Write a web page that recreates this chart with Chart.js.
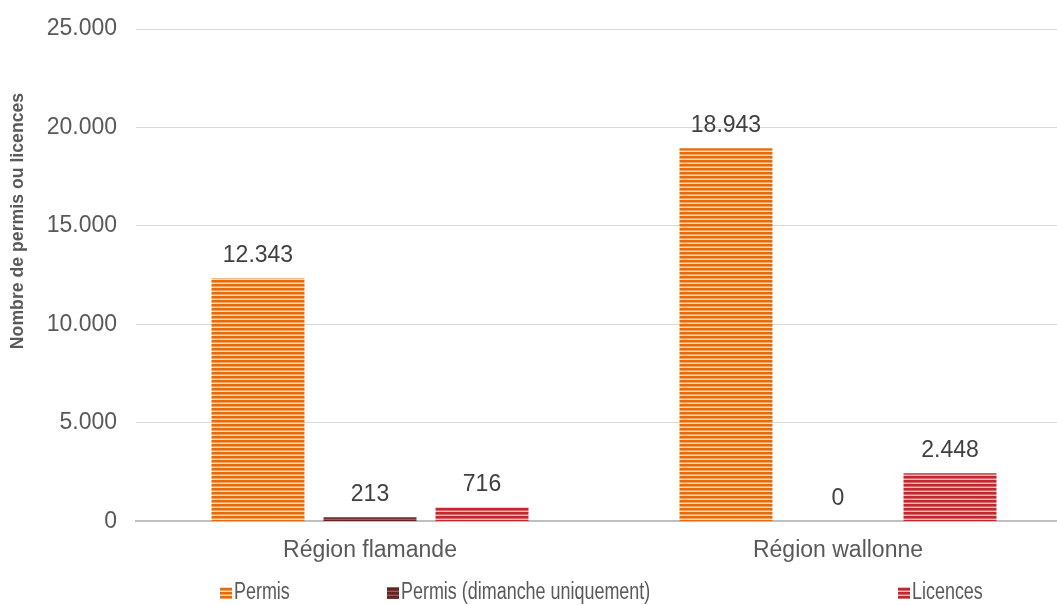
<!DOCTYPE html>
<html>
<head>
<meta charset="utf-8">
<script src="https://cdn.jsdelivr.net/npm/chart.js@4.4.1/dist/chart.umd.min.js"></script>
<style>
    html, body { margin: 0; padding: 0; background: #fff; overflow: hidden; }
    #wrap { width: 1072px; height: 605px; position: relative; }
</style>
</head>
<body>
<div id="wrap"><canvas id="chartPermis"></canvas></div>
<script>
// ============ DONNEES ============
const REGIONS = ['Région flamande', 'Région wallonne'];
const SERIES_NOMS = ['Permis', 'Permis (dimanche uniquement)', 'Licences'];
const PERMIS = [12343, 18943];
const PERMIS_DIMANCHE = [213, 0];
const LICENCES = [716, 2448];
const Y_TICKS = [0, 5000, 10000, 15000, 20000, 25000];
const TITRE_Y = 'Nombre de permis ou licences';

const TEXTE = '#595959';
const POLICE = "'Liberation Sans', Arial, sans-serif";

function fmt(v) {
    return String(v).replace(/\B(?=(\d{3})+(?!\d))/g, '.');
}

// motif a rayures horizontales (comme le remplissage Excel)
function rayures(fonce, moyen, clair) {
    const c = document.createElement('canvas');
    c.width = 4; c.height = 4;
    const g = c.getContext('2d');
    g.fillStyle = fonce; g.fillRect(0, 0, 4, 2);
    g.fillStyle = moyen; g.fillRect(0, 2, 4, 1);
    g.fillStyle = clair; g.fillRect(0, 3, 4, 1);
    return g.createPattern(c, 'repeat');
}

const motifOrange = rayures('#e46c0a', '#f0a060', '#fbd9bd');
const motifBordeaux = rayures('#632523', '#7a3432', '#a05a58');
const motifRouge = rayures('#c0282d', '#d66a6d', '#f0b8b9');

// etiquettes de valeur au-dessus des barres
const etiquettes = {
    id: 'etiquettes',
    afterDatasetsDraw(chart) {
        const ctx = chart.ctx;
        ctx.save();
        ctx.font = '23px ' + POLICE;
        ctx.fillStyle = '#404040';
        ctx.textAlign = 'center';
        ctx.textBaseline = 'middle';
        chart.data.datasets.forEach((ds, i) => {
            chart.getDatasetMeta(i).data.forEach((bar, j) => {
                ctx.fillText(fmt(ds.data[j]), bar.x, bar.y - 23);
            });
        });
        ctx.restore();
    }
};

// titre de l'axe Y (un peu plus haut que le centre, comme dans Excel)
const titreY = {
    id: 'titreY',
    afterDraw(chart) {
        const ctx = chart.ctx;
        ctx.save();
        ctx.translate(18, 221);
        ctx.rotate(-Math.PI / 2);
        ctx.scale(0.93, 1);
        ctx.font = 'bold 19px ' + POLICE;
        ctx.fillStyle = TEXTE;
        ctx.textAlign = 'center';
        ctx.textBaseline = 'middle';
        ctx.fillText(TITRE_Y, 0, 0);
        ctx.restore();
    }
};

// legende facon Excel (texte un peu comprime, cases reparties)
const LEGENDE_X = [220, 387, 898];
const legende = {
    id: 'legende',
    afterDraw(chart) {
        const ctx = chart.ctx;
        const y = 593;
        ctx.save();
        ctx.font = '23px ' + POLICE;
        ctx.textAlign = 'left';
        ctx.textBaseline = 'middle';
        chart.data.datasets.forEach((ds, i) => {
            const x = LEGENDE_X[i];
            ctx.fillStyle = ds.backgroundColor;
            ctx.fillRect(x, y - 6, 12, 12);
            ctx.fillStyle = TEXTE;
            ctx.save();
            ctx.translate(x + 14, y);
            ctx.scale(0.78, 1);
            ctx.fillText(ds.label, 0, 0);
            ctx.restore();
        });
        ctx.restore();
    }
};

new Chart(document.getElementById('chartPermis'), {
    type: 'bar',
    data: {
        labels: REGIONS,
        datasets: [
            { label: SERIES_NOMS[0], data: PERMIS, backgroundColor: motifOrange },
            { label: SERIES_NOMS[1], data: PERMIS_DIMANCHE, backgroundColor: motifBordeaux },
            { label: SERIES_NOMS[2], data: LICENCES, backgroundColor: motifRouge }
        ]
    },
    options: {
        responsive: true,
        maintainAspectRatio: false,
        animation: false,
        categoryPercentage: 0.718,
        barPercentage: 0.83,
        layout: { padding: { top: 29, right: 0, left: 0, bottom: 34 } },
        plugins: {
            tooltip: { enabled: false },
            legend: { display: false }
        },
        scales: {
            x: {
                grid: { display: false },
                border: { display: true, color: '#bfbfbf', width: 2 },
                ticks: { font: { size: 23, family: POLICE }, color: TEXTE, padding: 7 }
            },
            y: {
                min: 0,
                max: 25000,
                afterBuildTicks(scale) {
                    scale.ticks = Y_TICKS.map(v => ({ value: v }));
                },
                afterFit(scale) {
                    scale.width = 136;
                    scale.paddingTop = 0;
                    scale.paddingBottom = 0;
                },
                grid: { color: '#d9d9d9', drawTicks: false },
                border: { display: false },
                ticks: {
                    font: { size: 23, family: POLICE },
                    color: TEXTE,
                    padding: 19,
                    callback: v => fmt(v)
                }
            }
        }
    },
    plugins: [etiquettes, titreY, legende]
});
</script>
</body>
</html>
